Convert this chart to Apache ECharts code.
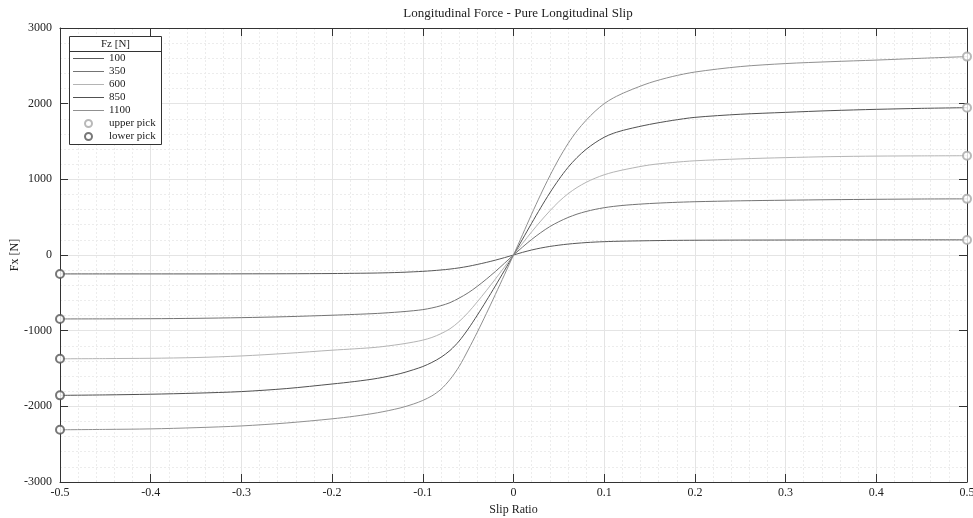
<!DOCTYPE html>
<html>
<head>
<meta charset="utf-8">
<script src="https://cdn.jsdelivr.net/npm/echarts@6/dist/echarts.min.js"></script>
<style>
  html, body { margin: 0; padding: 0; background: #fff; }
  #chart { width: 973px; height: 518px; }
</style>
</head>
<body>
<div id="chart"></div>
<script>
let myChart = echarts.init(document.getElementById('chart'));

// slip ratio samples
let slip = [-0.5, -0.45, -0.4, -0.35, -0.3, -0.25, -0.2, -0.175, -0.15, -0.125, -0.11,
            -0.1, -0.09, -0.08, -0.07, -0.06, -0.05, -0.04, -0.03, -0.02, -0.01, 0,
            0.01, 0.02, 0.03, 0.04, 0.05, 0.06, 0.07, 0.08, 0.09, 0.1,
            0.11, 0.125, 0.15, 0.175, 0.2, 0.25, 0.3, 0.35, 0.4, 0.45, 0.5];
// Fx [N] for each Fz
let fx100  = [-250, -250, -250, -250, -249, -248, -245, -242, -238, -230, -222,
              -216, -208, -198, -186, -170, -150, -125, -98, -68, -35, 0,
              35, 66, 92, 113, 130, 144, 155, 164, 171, 176,
              180, 184, 189, 193, 195, 197, 198, 199, 199, 200, 200];
let fx350  = [-845, -844, -842, -837, -828, -815, -796, -785, -772, -752, -736,
              -722, -700, -670, -630, -570, -500, -415, -320, -218, -110, 0,
              105, 205, 295, 375, 440, 495, 540, 575, 603, 625,
              642, 660, 680, 694, 704, 716, 724, 731, 736, 740, 742];
let fx600  = [-1372, -1369, -1365, -1355, -1334, -1300, -1258, -1240, -1218, -1180, -1150,
              -1125, -1090, -1040, -975, -880, -760, -620, -472, -318, -160, 0,
              155, 305, 448, 582, 705, 808, 892, 960, 1015, 1060,
              1095, 1135, 1190, 1222, 1245, 1270, 1287, 1300, 1307, 1310, 1312];
let fx850  = [-1855, -1849, -1840, -1826, -1805, -1765, -1705, -1672, -1630, -1568, -1515,
              -1474, -1420, -1352, -1262, -1138, -978, -797, -606, -408, -205, 0,
              210, 420, 625, 820, 998, 1156, 1288, 1396, 1484, 1556,
              1608, 1660, 1726, 1778, 1819, 1860, 1885, 1908, 1925, 1938, 1947];
let fx1100 = [-2310, -2305, -2298, -2282, -2259, -2220, -2165, -2130, -2085, -2022, -1968,
              -1922, -1862, -1775, -1645, -1475, -1255, -1022, -776, -521, -262, 0,
              270, 540, 800, 1045, 1270, 1470, 1640, 1780, 1900, 2000,
              2075, 2160, 2275, 2358, 2418, 2490, 2530, 2555, 2576, 2600, 2622];
let fzNames = ['100', '350', '600', '850', '1100'];
let curves = [fx100, fx350, fx600, fx850, fx1100];
let curveColors = ['#595959', '#747474', '#b4b4b4', '#515151', '#909090'];

let upperPick = [[0.5, 199], [0.5, 742], [0.5, 1311], [0.5, 1947], [0.5, 2622]];
let lowerPick = [[-0.5, -250], [-0.5, -845], [-0.5, -1372], [-0.5, -1855], [-0.5, -2310]];

let serif = 'Liberation Serif';
let lineIcon = 'path://M0,0 L31,0 L31,1 L0,1 Z';

let series = [];
let legendData = [];
curves.forEach(function (v, k) {
    series.push({
        name: fzNames[k],
        type: 'line',
        symbol: 'none',
        smooth: 0.3,
        lineStyle: { width: 1, color: curveColors[k] },
        itemStyle: { color: curveColors[k] },
        data: slip.map(function (s, i) { return [s, v[i]]; })
    });
    legendData.push({ name: fzNames[k], icon: lineIcon });
});
series.push({
    name: 'upper pick', type: 'scatter', symbol: 'emptyCircle', symbolSize: 8,
    clip: false, z: 5,
    itemStyle: { color: '#a8a8a8', borderWidth: 1 },
    data: upperPick
});
series.push({
    name: 'lower pick', type: 'scatter', symbol: 'emptyCircle', symbolSize: 8,
    clip: false, z: 5,
    itemStyle: { color: '#555', borderWidth: 1 },
    data: lowerPick
});
legendData.push({ name: 'upper pick', icon: 'emptyCircle' });
legendData.push({ name: 'lower pick', icon: 'emptyCircle' });

let axisCommon = {
    axisLine: { show: true, onZero: false, lineStyle: { color: '#333', width: 1 } },
    axisTick: { show: true, inside: true, length: 8, lineStyle: { color: '#333' } }
};
let plainNum = function (v) { return String(Math.round(v * 100) / 100); };

let option = {
    animation: false,
    backgroundColor: '#fff',
    title: {
        text: 'Longitudinal Force - Pure Longitudinal Slip',
        left: 513, top: 2, textAlign: 'center',
        textStyle: { fontFamily: serif, fontSize: 13, fontWeight: 'normal', color: '#222' }
    },
    grid: { left: 60, right: 6, top: 28, bottom: 36, outerBoundsMode: 'none', containLabel: false },
    legend: {
        orient: 'vertical',
        left: 73, top: 52,
        padding: 0,
        itemGap: 0,
        itemWidth: 31,
        itemHeight: 7,
        symbolKeepAspect: true,
        textStyle: { fontFamily: serif, fontSize: 11, color: '#222', lineHeight: 13 },
        data: legendData
    },
    graphic: [
        { type: 'rect', z: 3, shape: { x: 69.5, y: 36.5, width: 92, height: 108 },
          style: { fill: '#fff', stroke: '#333', lineWidth: 1 } },
        { type: 'line', z: 3, shape: { x1: 69.5, y1: 51.5, x2: 161.5, y2: 51.5 },
          style: { stroke: '#333', lineWidth: 1 } },
        { type: 'text', z: 5, x: 115.5, y: 44,
          style: { text: 'Fz [N]', fontFamily: serif, fontSize: 11, fill: '#222',
                   textAlign: 'center', textVerticalAlign: 'middle' } }
    ],
    xAxis: [
        Object.assign({
            type: 'value', min: -0.5, max: 0.5, interval: 0.1,
            name: 'Slip Ratio', nameLocation: 'middle', nameGap: 22, nameMoveOverlap: false,
            nameTextStyle: { fontFamily: serif, fontSize: 12, color: '#222' },
            axisLabel: { fontFamily: serif, fontSize: 12, color: '#222', margin: 5, formatter: plainNum },
            splitLine: { show: true, lineStyle: { color: '#e4e4e4', width: 1 } },
            minorTick: { show: true, splitNumber: 5, length: 0 },
            minorSplitLine: { show: true, lineStyle: { color: '#ececec', width: 1, type: [2, 2] } }
        }, axisCommon),
        Object.assign({
            type: 'value', min: -0.5, max: 0.5, interval: 0.1, position: 'top',
            axisLabel: { show: false }, splitLine: { show: false }
        }, axisCommon)
    ],
    yAxis: [
        Object.assign({
            type: 'value', min: -3000, max: 3000, interval: 1000,
            name: 'Fx [N]', nameLocation: 'middle', nameGap: 39, nameRotate: 90, nameMoveOverlap: false,
            nameTextStyle: { fontFamily: serif, fontSize: 12, color: '#222' },
            axisLabel: { fontFamily: serif, fontSize: 12, color: '#222', margin: 8, formatter: plainNum },
            splitLine: { show: true, lineStyle: { color: '#e4e4e4', width: 1 } },
            minorTick: { show: true, splitNumber: 5, length: 0 },
            minorSplitLine: { show: true, lineStyle: { color: '#ececec', width: 1, type: [2, 2] } }
        }, axisCommon),
        Object.assign({
            type: 'value', min: -3000, max: 3000, interval: 1000, position: 'right',
            axisLabel: { show: false }, splitLine: { show: false }
        }, axisCommon)
    ],
    series: series
};
myChart.setOption(option);
</script>
</body>
</html>
